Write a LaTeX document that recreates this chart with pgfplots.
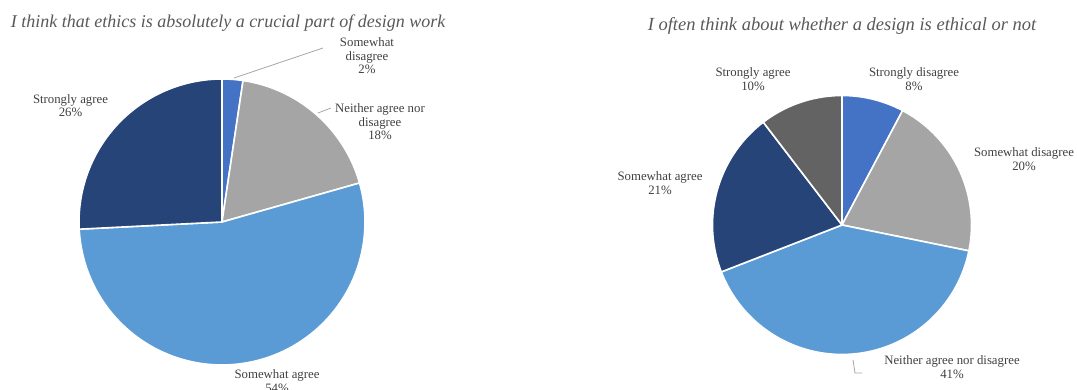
\documentclass[border=0pt]{standalone}
\usepackage{pgfplots}
\pgfplotsset{compat=1.18}
\usepackage{fontspec}
\setmainfont{Liberation Serif}
\definecolor{cBlue}{HTML}{4472C4}
\definecolor{cGray}{HTML}{A5A5A5}
\definecolor{cLight}{HTML}{5B9BD5}
\definecolor{cNavy}{HTML}{264478}
\definecolor{cDark}{HTML}{636363}
\definecolor{cText}{HTML}{404040}
\definecolor{cTitle}{HTML}{595959}
\definecolor{cLead}{HTML}{A6A6A6}
% pie slice: centre x, centre y, radius, value (percent), colour
\newcommand\piestart{\gdef\piecum{0}}
\newcommand\pieslice[5]{%
  \pgfmathsetmacro\angA{90-3.6*\piecum}%
  \pgfmathsetmacro\newcum{\piecum+#4}\xdef\piecum{\newcum}%
  \pgfmathsetmacro\angB{90-3.6*\piecum}%
  \edef\doslice{\noexpand\addplot[fill=#5, draw=white, line width=1.6pt, line join=round,
     domain=\angB:\angA, samples=90, variable=\noexpand\t]
     ({#1+#3*cos(\noexpand\t)},{#2+#3*sin(\noexpand\t)}) -- (axis cs:#1,#2) -- cycle;}%
  \doslice}
\begin{document}
\begin{tikzpicture}
\begin{axis}[hide axis, scale only axis, width=1077pt, height=390pt,
  xmin=0, xmax=1077, ymin=0, ymax=390, clip=false]
% Left pie: I think that ethics is absolutely a crucial part of design work
\piestart
\pieslice{222}{168}{143}{2.35}{cBlue}   % Somewhat disagree
\pieslice{222}{168}{143}{18.25}{cGray}  % Neither agree nor disagree
\pieslice{222}{168}{143}{53.6}{cLight}  % Somewhat agree
\pieslice{222}{168}{143}{25.8}{cNavy}   % Strongly agree
% Right pie: I often think about whether a design is ethical or not
\piestart
\pieslice{842}{165}{129.5}{7.75}{cBlue}  % Strongly disagree
\pieslice{842}{165}{129.5}{20.45}{cGray} % Somewhat disagree
\pieslice{842}{165}{129.5}{40.9}{cLight} % Neither agree nor disagree
\pieslice{842}{165}{129.5}{20.5}{cNavy}  % Somewhat agree
\pieslice{842}{165}{129.5}{10.4}{cDark}  % Strongly agree
% leader lines
\addplot[cLead, line width=0.8pt] coordinates {(234,312) (323,342)};
\addplot[cLead, line width=0.8pt] coordinates {(318,277) (331,282)};
\addplot[cLead, line width=0.8pt] coordinates {(853,30) (855,17) (862,17)};
% titles
\node[text=cTitle, font=\fontsize{18}{21}\selectfont\itshape] at (axis cs:228,367) {I think that ethics is absolutely a crucial part of design work};
\node[text=cTitle, font=\fontsize{18.5}{21}\selectfont\itshape] at (axis cs:842,364) {I often think about whether a design is ethical or not};
% labels
\tikzset{lbl/.style={text=cText, align=center, font=\fontsize{12.8}{13.6}\selectfont, inner sep=0pt}}
\node[lbl] at (axis cs:367,334) {Somewhat\\disagree\\2\%};
\node[lbl] at (axis cs:380,268) {Neither agree nor\\disagree\\18\%};
\node[lbl] at (axis cs:70.5,284.5) {Strongly agree\\26\%};
\node[lbl] at (axis cs:277,9) {Somewhat agree\\54\%};
\node[lbl] at (axis cs:753,311) {Strongly agree\\10\%};
\node[lbl] at (axis cs:914,311) {Strongly disagree\\8\%};
\node[lbl] at (axis cs:1024,231) {Somewhat disagree\\20\%};
\node[lbl] at (axis cs:660,207) {Somewhat agree\\21\%};
\node[lbl] at (axis cs:952,23) {Neither agree nor disagree\\41\%};
\end{axis}
\pgfresetboundingbox
\useasboundingbox (0,0) rectangle (1077pt,390pt);
\end{tikzpicture}
\end{document}
